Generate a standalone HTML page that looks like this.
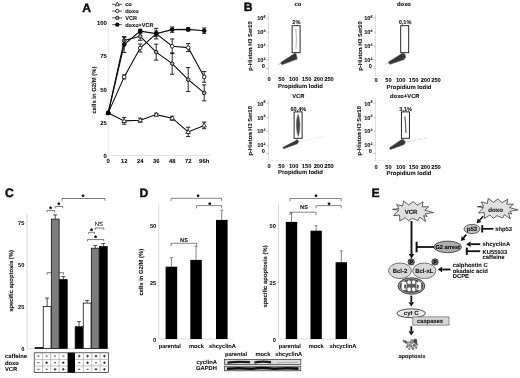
<!DOCTYPE html>
<html><head><meta charset="utf-8"><title>figure</title>
<style>
html,body{margin:0;padding:0;background:#fff;}
body{width:520px;height:378px;overflow:hidden;}
svg{display:block;font-family:"Liberation Sans",sans-serif;}
text{stroke:#111;stroke-width:0.08px;paint-order:stroke;text-rendering:geometricPrecision;}
</style></head><body>
<svg width="520" height="378" viewBox="0 0 520 378">
<defs><filter id="soft" x="0" y="0" width="100%" height="100%" filterUnits="userSpaceOnUse" color-interpolation-filters="sRGB"><feGaussianBlur stdDeviation="0.27"/></filter><filter id="b2" x="-20%" y="-20%" width="140%" height="140%"><feGaussianBlur stdDeviation="0.35"/></filter><filter id="b1" x="-5%" y="-50%" width="110%" height="200%"><feGaussianBlur stdDeviation="0.5"/></filter></defs>
<rect width="520" height="378" fill="#fff"/>
<g id="fig" filter="url(#soft)">
<text x="82.3" y="11.8" font-size="12.2" text-anchor="start" font-weight="bold" fill="#111" style="stroke-width:0.45px">A</text>
<line x1="108.2" y1="18" x2="108.2" y2="155.5" stroke="#e0e0e0" stroke-width="0.8"/>
<line x1="108.2" y1="155.5" x2="210" y2="155.5" stroke="#e0e0e0" stroke-width="0.8"/>
<text x="106.9" y="157.7" font-size="5.9" text-anchor="end" font-weight="bold" fill="#111">0</text>
<text x="106.9" y="124.89999999999999" font-size="5.9" text-anchor="end" font-weight="bold" fill="#111">25</text>
<text x="106.9" y="91.6" font-size="5.9" text-anchor="end" font-weight="bold" fill="#111">50</text>
<text x="106.9" y="58.3" font-size="5.9" text-anchor="end" font-weight="bold" fill="#111">75</text>
<text x="106.9" y="24.999999999999982" font-size="5.9" text-anchor="end" font-weight="bold" fill="#111">100</text>
<text x="108.2" y="163.4" font-size="5.9" text-anchor="middle" font-weight="bold" fill="#111">0</text>
<text x="124.2" y="163.4" font-size="5.9" text-anchor="middle" font-weight="bold" fill="#111">12</text>
<text x="140.2" y="163.4" font-size="5.9" text-anchor="middle" font-weight="bold" fill="#111">24</text>
<text x="156.2" y="163.4" font-size="5.9" text-anchor="middle" font-weight="bold" fill="#111">36</text>
<text x="172.2" y="163.4" font-size="5.9" text-anchor="middle" font-weight="bold" fill="#111">48</text>
<text x="188.2" y="163.4" font-size="5.9" text-anchor="middle" font-weight="bold" fill="#111">72</text>
<text x="204.2" y="163.4" font-size="5.9" text-anchor="middle" font-weight="bold" fill="#111">96h</text>
<polyline points="108.2,112.9 124.2,120.9 140.2,120.2 156.2,114.6 172.2,118.2 188.2,131.9 204.2,125.4" fill="none" stroke="#0a0a0a" stroke-width="1.1"/>
<line x1="124.2" y1="117.538" x2="124.2" y2="124.198" stroke="#111" stroke-width="0.9"/>
<line x1="122.0" y1="117.538" x2="126.4" y2="117.538" stroke="#111" stroke-width="0.9"/>
<line x1="122.0" y1="124.198" x2="126.4" y2="124.198" stroke="#111" stroke-width="0.9"/>
<line x1="140.2" y1="118.20400000000001" x2="140.2" y2="122.19999999999999" stroke="#111" stroke-width="0.9"/>
<line x1="138.0" y1="118.20400000000001" x2="142.39999999999998" y2="118.20400000000001" stroke="#111" stroke-width="0.9"/>
<line x1="138.0" y1="122.19999999999999" x2="142.39999999999998" y2="122.19999999999999" stroke="#111" stroke-width="0.9"/>
<line x1="156.2" y1="113.2756" x2="156.2" y2="115.9396" stroke="#111" stroke-width="0.9"/>
<line x1="154.0" y1="113.2756" x2="158.39999999999998" y2="113.2756" stroke="#111" stroke-width="0.9"/>
<line x1="154.0" y1="115.9396" x2="158.39999999999998" y2="115.9396" stroke="#111" stroke-width="0.9"/>
<line x1="172.2" y1="116.20599999999999" x2="172.2" y2="120.202" stroke="#111" stroke-width="0.9"/>
<line x1="170.0" y1="116.20599999999999" x2="174.39999999999998" y2="116.20599999999999" stroke="#111" stroke-width="0.9"/>
<line x1="170.0" y1="120.202" x2="174.39999999999998" y2="120.202" stroke="#111" stroke-width="0.9"/>
<line x1="188.2" y1="127.2616" x2="188.2" y2="136.5856" stroke="#111" stroke-width="0.9"/>
<line x1="186.0" y1="127.2616" x2="190.39999999999998" y2="127.2616" stroke="#111" stroke-width="0.9"/>
<line x1="186.0" y1="136.5856" x2="190.39999999999998" y2="136.5856" stroke="#111" stroke-width="0.9"/>
<line x1="204.2" y1="122.0668" x2="204.2" y2="128.7268" stroke="#111" stroke-width="0.9"/>
<line x1="202.0" y1="122.0668" x2="206.39999999999998" y2="122.0668" stroke="#111" stroke-width="0.9"/>
<line x1="202.0" y1="128.7268" x2="206.39999999999998" y2="128.7268" stroke="#111" stroke-width="0.9"/>
<path d="M106.0,114.5 L110.4,114.5 L108.2,110.5 Z" fill="#fff" stroke="#111" stroke-width="0.8"/>
<path d="M122.0,122.5 L126.4,122.5 L124.2,118.5 Z" fill="#fff" stroke="#111" stroke-width="0.8"/>
<path d="M138.0,121.8 L142.4,121.8 L140.2,117.8 Z" fill="#fff" stroke="#111" stroke-width="0.8"/>
<path d="M154.0,116.2 L158.4,116.2 L156.2,112.2 Z" fill="#fff" stroke="#111" stroke-width="0.8"/>
<path d="M170.0,119.8 L174.4,119.8 L172.2,115.8 Z" fill="#fff" stroke="#111" stroke-width="0.8"/>
<path d="M186.0,133.5 L190.4,133.5 L188.2,129.5 Z" fill="#fff" stroke="#111" stroke-width="0.8"/>
<path d="M202.0,127.0 L206.4,127.0 L204.2,123.0 Z" fill="#fff" stroke="#111" stroke-width="0.8"/>
<polyline points="108.2,112.9 124.2,76.9 140.2,48.0 156.2,33.6 172.2,46.3 188.2,47.6 204.2,76.9" fill="none" stroke="#0a0a0a" stroke-width="1.1"/>
<line x1="124.2" y1="74.914" x2="124.2" y2="78.91" stroke="#111" stroke-width="0.9"/>
<line x1="122.0" y1="74.914" x2="126.4" y2="74.914" stroke="#111" stroke-width="0.9"/>
<line x1="122.0" y1="78.91" x2="126.4" y2="78.91" stroke="#111" stroke-width="0.9"/>
<line x1="140.2" y1="44.01159999999999" x2="140.2" y2="52.00359999999999" stroke="#111" stroke-width="0.9"/>
<line x1="138.0" y1="44.01159999999999" x2="142.39999999999998" y2="44.01159999999999" stroke="#111" stroke-width="0.9"/>
<line x1="138.0" y1="52.00359999999999" x2="142.39999999999998" y2="52.00359999999999" stroke="#111" stroke-width="0.9"/>
<line x1="156.2" y1="28.293999999999997" x2="156.2" y2="38.94999999999999" stroke="#111" stroke-width="0.9"/>
<line x1="154.0" y1="28.293999999999997" x2="158.39999999999998" y2="28.293999999999997" stroke="#111" stroke-width="0.9"/>
<line x1="154.0" y1="38.94999999999999" x2="158.39999999999998" y2="38.94999999999999" stroke="#111" stroke-width="0.9"/>
<line x1="172.2" y1="38.94999999999999" x2="172.2" y2="53.60199999999999" stroke="#111" stroke-width="0.9"/>
<line x1="170.0" y1="38.94999999999999" x2="174.39999999999998" y2="38.94999999999999" stroke="#111" stroke-width="0.9"/>
<line x1="170.0" y1="53.60199999999999" x2="174.39999999999998" y2="53.60199999999999" stroke="#111" stroke-width="0.9"/>
<line x1="188.2" y1="43.611999999999995" x2="188.2" y2="51.604" stroke="#111" stroke-width="0.9"/>
<line x1="186.0" y1="43.611999999999995" x2="190.39999999999998" y2="43.611999999999995" stroke="#111" stroke-width="0.9"/>
<line x1="186.0" y1="51.604" x2="190.39999999999998" y2="51.604" stroke="#111" stroke-width="0.9"/>
<line x1="204.2" y1="71.58399999999999" x2="204.2" y2="82.24" stroke="#111" stroke-width="0.9"/>
<line x1="202.0" y1="71.58399999999999" x2="206.39999999999998" y2="71.58399999999999" stroke="#111" stroke-width="0.9"/>
<line x1="202.0" y1="82.24" x2="206.39999999999998" y2="82.24" stroke="#111" stroke-width="0.9"/>
<circle cx="108.2" cy="112.9" r="1.8" fill="#fff" stroke="#111" stroke-width="0.9"/>
<circle cx="124.2" cy="76.9" r="1.8" fill="#fff" stroke="#111" stroke-width="0.9"/>
<circle cx="140.2" cy="48.0" r="1.8" fill="#fff" stroke="#111" stroke-width="0.9"/>
<circle cx="156.2" cy="33.6" r="1.8" fill="#fff" stroke="#111" stroke-width="0.9"/>
<circle cx="172.2" cy="46.3" r="1.8" fill="#fff" stroke="#111" stroke-width="0.9"/>
<circle cx="188.2" cy="47.6" r="1.8" fill="#fff" stroke="#111" stroke-width="0.9"/>
<circle cx="204.2" cy="76.9" r="1.8" fill="#fff" stroke="#111" stroke-width="0.9"/>
<polyline points="108.2,112.9 124.2,40.5 140.2,36.3 156.2,52.1 172.2,63.6 188.2,79.6 204.2,92.9" fill="none" stroke="#0a0a0a" stroke-width="1.1"/>
<line x1="124.2" y1="37.2184" x2="124.2" y2="43.8784" stroke="#111" stroke-width="0.9"/>
<line x1="122.0" y1="37.2184" x2="126.4" y2="37.2184" stroke="#111" stroke-width="0.9"/>
<line x1="122.0" y1="43.8784" x2="126.4" y2="43.8784" stroke="#111" stroke-width="0.9"/>
<line x1="140.2" y1="32.28999999999999" x2="140.2" y2="40.282" stroke="#111" stroke-width="0.9"/>
<line x1="138.0" y1="32.28999999999999" x2="142.39999999999998" y2="32.28999999999999" stroke="#111" stroke-width="0.9"/>
<line x1="138.0" y1="40.282" x2="142.39999999999998" y2="40.282" stroke="#111" stroke-width="0.9"/>
<line x1="156.2" y1="44.144800000000004" x2="156.2" y2="60.1288" stroke="#111" stroke-width="0.9"/>
<line x1="154.0" y1="44.144800000000004" x2="158.39999999999998" y2="44.144800000000004" stroke="#111" stroke-width="0.9"/>
<line x1="154.0" y1="60.1288" x2="158.39999999999998" y2="60.1288" stroke="#111" stroke-width="0.9"/>
<line x1="172.2" y1="52.93599999999999" x2="172.2" y2="74.24799999999999" stroke="#111" stroke-width="0.9"/>
<line x1="170.0" y1="52.93599999999999" x2="174.39999999999998" y2="52.93599999999999" stroke="#111" stroke-width="0.9"/>
<line x1="170.0" y1="74.24799999999999" x2="174.39999999999998" y2="74.24799999999999" stroke="#111" stroke-width="0.9"/>
<line x1="188.2" y1="67.588" x2="188.2" y2="91.564" stroke="#111" stroke-width="0.9"/>
<line x1="186.0" y1="67.588" x2="190.39999999999998" y2="67.588" stroke="#111" stroke-width="0.9"/>
<line x1="186.0" y1="91.564" x2="190.39999999999998" y2="91.564" stroke="#111" stroke-width="0.9"/>
<line x1="204.2" y1="84.904" x2="204.2" y2="100.888" stroke="#111" stroke-width="0.9"/>
<line x1="202.0" y1="84.904" x2="206.39999999999998" y2="84.904" stroke="#111" stroke-width="0.9"/>
<line x1="202.0" y1="100.888" x2="206.39999999999998" y2="100.888" stroke="#111" stroke-width="0.9"/>
<circle cx="108.2" cy="112.9" r="1.8" fill="#aaa" stroke="#111" stroke-width="0.9"/>
<circle cx="124.2" cy="40.5" r="1.8" fill="#aaa" stroke="#111" stroke-width="0.9"/>
<circle cx="140.2" cy="36.3" r="1.8" fill="#aaa" stroke="#111" stroke-width="0.9"/>
<circle cx="156.2" cy="52.1" r="1.8" fill="#aaa" stroke="#111" stroke-width="0.9"/>
<circle cx="172.2" cy="63.6" r="1.8" fill="#aaa" stroke="#111" stroke-width="0.9"/>
<circle cx="188.2" cy="79.6" r="1.8" fill="#aaa" stroke="#111" stroke-width="0.9"/>
<circle cx="204.2" cy="92.9" r="1.8" fill="#aaa" stroke="#111" stroke-width="0.9"/>
<polyline points="108.2,112.9 124.2,44.5 140.2,31.2 156.2,33.6 172.2,29.6 188.2,29.4 204.2,30.7" fill="none" stroke="#0a0a0a" stroke-width="1.1"/>
<line x1="124.2" y1="36.55239999999999" x2="124.2" y2="52.5364" stroke="#111" stroke-width="0.9"/>
<line x1="122.0" y1="36.55239999999999" x2="126.4" y2="36.55239999999999" stroke="#111" stroke-width="0.9"/>
<line x1="122.0" y1="52.5364" x2="126.4" y2="52.5364" stroke="#111" stroke-width="0.9"/>
<line x1="140.2" y1="29.226399999999998" x2="140.2" y2="33.22239999999999" stroke="#111" stroke-width="0.9"/>
<line x1="138.0" y1="29.226399999999998" x2="142.39999999999998" y2="29.226399999999998" stroke="#111" stroke-width="0.9"/>
<line x1="138.0" y1="33.22239999999999" x2="142.39999999999998" y2="33.22239999999999" stroke="#111" stroke-width="0.9"/>
<line x1="156.2" y1="30.958" x2="156.2" y2="36.28599999999999" stroke="#111" stroke-width="0.9"/>
<line x1="154.0" y1="30.958" x2="158.39999999999998" y2="30.958" stroke="#111" stroke-width="0.9"/>
<line x1="154.0" y1="36.28599999999999" x2="158.39999999999998" y2="36.28599999999999" stroke="#111" stroke-width="0.9"/>
<line x1="172.2" y1="26.96199999999999" x2="172.2" y2="32.28999999999999" stroke="#111" stroke-width="0.9"/>
<line x1="170.0" y1="26.96199999999999" x2="174.39999999999998" y2="26.96199999999999" stroke="#111" stroke-width="0.9"/>
<line x1="170.0" y1="32.28999999999999" x2="174.39999999999998" y2="32.28999999999999" stroke="#111" stroke-width="0.9"/>
<line x1="188.2" y1="27.761199999999988" x2="188.2" y2="30.958" stroke="#111" stroke-width="0.9"/>
<line x1="186.0" y1="27.761199999999988" x2="190.39999999999998" y2="27.761199999999988" stroke="#111" stroke-width="0.9"/>
<line x1="186.0" y1="30.958" x2="190.39999999999998" y2="30.958" stroke="#111" stroke-width="0.9"/>
<line x1="204.2" y1="28.027599999999993" x2="204.2" y2="33.355599999999995" stroke="#111" stroke-width="0.9"/>
<line x1="202.0" y1="28.027599999999993" x2="206.39999999999998" y2="28.027599999999993" stroke="#111" stroke-width="0.9"/>
<line x1="202.0" y1="33.355599999999995" x2="206.39999999999998" y2="33.355599999999995" stroke="#111" stroke-width="0.9"/>
<circle cx="108.2" cy="112.9" r="2.0" fill="#000" stroke="#000" stroke-width="0.5"/>
<circle cx="124.2" cy="44.5" r="2.0" fill="#000" stroke="#000" stroke-width="0.5"/>
<circle cx="140.2" cy="31.2" r="2.0" fill="#000" stroke="#000" stroke-width="0.5"/>
<circle cx="156.2" cy="33.6" r="2.0" fill="#000" stroke="#000" stroke-width="0.5"/>
<circle cx="172.2" cy="29.6" r="2.0" fill="#000" stroke="#000" stroke-width="0.5"/>
<circle cx="188.2" cy="29.4" r="2.0" fill="#000" stroke="#000" stroke-width="0.5"/>
<circle cx="204.2" cy="30.7" r="2.0" fill="#000" stroke="#000" stroke-width="0.5"/>
<rect x="106.7" y="111.4" width="3.4" height="3.4" fill="#000" stroke="none" stroke-width="1"/>
<line x1="112" y1="4.3" x2="122" y2="4.3" stroke="#333" stroke-width="0.8"/>
<path d="M115.3,5.8 L119.3,5.8 L117.3,2.0999999999999996 Z" fill="#fff" stroke="#111" stroke-width="0.75"/>
<text x="125.2" y="6.3" font-size="5.6" text-anchor="start" font-weight="bold" fill="#111">co</text>
<line x1="112" y1="11.1" x2="122" y2="11.1" stroke="#333" stroke-width="0.8"/>
<circle cx="117.3" cy="11.1" r="1.7" fill="#fff" stroke="#111" stroke-width="0.85"/>
<text x="125.2" y="13.1" font-size="5.6" text-anchor="start" font-weight="bold" fill="#111">doxo</text>
<line x1="112" y1="17.9" x2="122" y2="17.9" stroke="#333" stroke-width="0.8"/>
<circle cx="117.3" cy="17.9" r="1.7" fill="#aaa" stroke="#111" stroke-width="0.85"/>
<text x="125.2" y="19.9" font-size="5.6" text-anchor="start" font-weight="bold" fill="#111">VCR</text>
<line x1="112" y1="24.7" x2="122" y2="24.7" stroke="#333" stroke-width="0.8"/>
<circle cx="117.3" cy="24.7" r="1.9" fill="#000" stroke="#000" stroke-width="0.5"/>
<text x="125.2" y="26.7" font-size="5.6" text-anchor="start" font-weight="bold" fill="#111">doxo+VCR</text>
<text x="96.2" y="90" font-size="5.9" text-anchor="middle" font-weight="bold" fill="#111" transform="rotate(-90 96.2 90)">cells in G2/M (%)</text>
<text x="243.8" y="11.3" font-size="12.2" text-anchor="start" font-weight="bold" fill="#111" style="stroke-width:0.45px">B</text>
<text x="297.8" y="5.9" font-size="5.8" text-anchor="middle" font-weight="bold" fill="#111">co</text>
<line x1="268.4" y1="13.5" x2="268.4" y2="75.8" stroke="#d2d2d2" stroke-width="0.8"/>
<line x1="268.4" y1="75.8" x2="333" y2="75.8" stroke="#d4d4d4" stroke-width="0.7" stroke-dasharray="1 0.8"/>
<text x="257.2" y="20.299999999999997" font-size="5.6" font-weight="bold" fill="#111">10<tspan dy="-2.3" font-size="3.6">5</tspan></text>
<line x1="266.6" y1="18.299999999999997" x2="268.4" y2="18.299999999999997" stroke="#999" stroke-width="0.6"/>
<text x="257.2" y="34.199999999999996" font-size="5.6" font-weight="bold" fill="#111">10<tspan dy="-2.3" font-size="3.6">4</tspan></text>
<line x1="266.6" y1="32.199999999999996" x2="268.4" y2="32.199999999999996" stroke="#999" stroke-width="0.6"/>
<text x="257.2" y="48.099999999999994" font-size="5.6" font-weight="bold" fill="#111">10<tspan dy="-2.3" font-size="3.6">3</tspan></text>
<line x1="266.6" y1="46.099999999999994" x2="268.4" y2="46.099999999999994" stroke="#999" stroke-width="0.6"/>
<text x="257.2" y="62.0" font-size="5.6" font-weight="bold" fill="#111">10<tspan dy="-2.3" font-size="3.6">2</tspan></text>
<line x1="266.6" y1="60.0" x2="268.4" y2="60.0" stroke="#999" stroke-width="0.6"/>
<text x="263.4" y="68.1" font-size="5.6" text-anchor="middle" font-weight="bold" fill="#111">0</text>
<line x1="266.4" y1="68.7" x2="268.4" y2="68.7" stroke="#888" stroke-width="0.6"/>
<text x="269" y="81.2" font-size="5.7" text-anchor="middle" font-weight="bold" fill="#111">0</text>
<text x="281.5" y="81.2" font-size="5.7" text-anchor="middle" font-weight="bold" fill="#111">50</text>
<text x="293.7" y="81.2" font-size="5.7" text-anchor="middle" font-weight="bold" fill="#111">100</text>
<text x="306.6" y="81.2" font-size="5.7" text-anchor="middle" font-weight="bold" fill="#111">150</text>
<text x="318.4" y="81.2" font-size="5.7" text-anchor="middle" font-weight="bold" fill="#111">200</text>
<text x="329.0" y="81.2" font-size="5.7" text-anchor="middle" font-weight="bold" fill="#111">250</text>
<text x="300.5" y="88.3" font-size="5.9" text-anchor="middle" font-weight="bold" fill="#111">Propidium Iodid</text>
<text x="252.4" y="46.0" font-size="5.75" text-anchor="middle" font-weight="bold" fill="#111" transform="rotate(-90 252.4 46.0)">p-Histon H3 Ser10</text>
<g transform="translate(269 67.5)" filter="url(#b2)">
<path d="M11.7,-3.85 L12.1,-5.2 L26,-14.3 L27,-14 L28.2,-8.4 L13.3,-2.9 Z" fill="#363636" stroke="#555" stroke-width="0.6"/>
<path d="M8.9,-3.0 L12,-4.1" fill="none" stroke="#aaa" stroke-width="0.7"/>
</g>
<path d="M295.79999999999995,28.700000000000003 L296.49999999999994,37.7 L295.9,48.7" fill="none" stroke="#bbb" stroke-width="1.1" filter="url(#b2)"/>
<rect x="292.09999999999997" y="25.700000000000003" width="8.0" height="27.0" fill="none" stroke="#111" stroke-width="0.9"/>
<text x="296.4" y="24.300000000000004" font-size="5.6" text-anchor="middle" font-weight="bold" fill="#111">2%</text>
<text x="404" y="5.9" font-size="5.8" text-anchor="middle" font-weight="bold" fill="#111">doxo</text>
<line x1="375.4" y1="13.5" x2="375.4" y2="75.8" stroke="#d2d2d2" stroke-width="0.8"/>
<line x1="375.4" y1="75.8" x2="440" y2="75.8" stroke="#d4d4d4" stroke-width="0.7" stroke-dasharray="1 0.8"/>
<text x="364.2" y="20.299999999999997" font-size="5.6" font-weight="bold" fill="#111">10<tspan dy="-2.3" font-size="3.6">5</tspan></text>
<line x1="373.6" y1="18.299999999999997" x2="375.4" y2="18.299999999999997" stroke="#999" stroke-width="0.6"/>
<text x="364.2" y="34.199999999999996" font-size="5.6" font-weight="bold" fill="#111">10<tspan dy="-2.3" font-size="3.6">4</tspan></text>
<line x1="373.6" y1="32.199999999999996" x2="375.4" y2="32.199999999999996" stroke="#999" stroke-width="0.6"/>
<text x="364.2" y="48.099999999999994" font-size="5.6" font-weight="bold" fill="#111">10<tspan dy="-2.3" font-size="3.6">3</tspan></text>
<line x1="373.6" y1="46.099999999999994" x2="375.4" y2="46.099999999999994" stroke="#999" stroke-width="0.6"/>
<text x="364.2" y="62.0" font-size="5.6" font-weight="bold" fill="#111">10<tspan dy="-2.3" font-size="3.6">2</tspan></text>
<line x1="373.6" y1="60.0" x2="375.4" y2="60.0" stroke="#999" stroke-width="0.6"/>
<text x="370.4" y="68.1" font-size="5.6" text-anchor="middle" font-weight="bold" fill="#111">0</text>
<line x1="373.4" y1="68.7" x2="375.4" y2="68.7" stroke="#888" stroke-width="0.6"/>
<text x="376" y="81.6" font-size="5.7" text-anchor="middle" font-weight="bold" fill="#111">0</text>
<text x="388.5" y="81.6" font-size="5.7" text-anchor="middle" font-weight="bold" fill="#111">50</text>
<text x="400.7" y="81.6" font-size="5.7" text-anchor="middle" font-weight="bold" fill="#111">100</text>
<text x="413.6" y="81.6" font-size="5.7" text-anchor="middle" font-weight="bold" fill="#111">150</text>
<text x="425.4" y="81.6" font-size="5.7" text-anchor="middle" font-weight="bold" fill="#111">200</text>
<text x="436.0" y="81.6" font-size="5.7" text-anchor="middle" font-weight="bold" fill="#111">250</text>
<text x="409" y="88.5" font-size="5.9" text-anchor="middle" font-weight="bold" fill="#111">Propidium Iodid</text>
<text x="361.5" y="46.0" font-size="5.75" text-anchor="middle" font-weight="bold" fill="#111" transform="rotate(-90 361.5 46.0)">p-Histon H3 Ser10</text>
<g transform="translate(376 67.5)" filter="url(#b2)">
<path d="M12.5,-4.4 L12.9,-5.8 L26.4,-14.3 L28.8,-13.5 L29.8,-10.6 L28,-8.0 L14.1,-3.3 Z" fill="#363636" stroke="#555" stroke-width="0.6"/>
<path d="M8.5,-3.2 L12.6,-4.6" fill="none" stroke="#ccc" stroke-width="0.7"/>
</g>
<rect x="400.7" y="25.700000000000003" width="8.0" height="27.0" fill="none" stroke="#111" stroke-width="0.9"/>
<text x="405.0" y="24.300000000000004" font-size="5.6" text-anchor="middle" font-weight="bold" fill="#111">0,1%</text>
<text x="298.3" y="97.8" font-size="5.8" text-anchor="middle" font-weight="bold" fill="#111">VCR</text>
<line x1="268.4" y1="98.30000000000001" x2="268.4" y2="160.60000000000002" stroke="#d2d2d2" stroke-width="0.8"/>
<line x1="268.4" y1="160.60000000000002" x2="333" y2="160.60000000000002" stroke="#d4d4d4" stroke-width="0.7" stroke-dasharray="1 0.8"/>
<text x="257.2" y="105.60000000000001" font-size="5.6" font-weight="bold" fill="#111">10<tspan dy="-2.3" font-size="3.6">5</tspan></text>
<line x1="266.6" y1="103.60000000000001" x2="268.4" y2="103.60000000000001" stroke="#999" stroke-width="0.6"/>
<text x="257.2" y="119.50000000000001" font-size="5.6" font-weight="bold" fill="#111">10<tspan dy="-2.3" font-size="3.6">4</tspan></text>
<line x1="266.6" y1="117.50000000000001" x2="268.4" y2="117.50000000000001" stroke="#999" stroke-width="0.6"/>
<text x="257.2" y="133.4" font-size="5.6" font-weight="bold" fill="#111">10<tspan dy="-2.3" font-size="3.6">3</tspan></text>
<line x1="266.6" y1="131.4" x2="268.4" y2="131.4" stroke="#999" stroke-width="0.6"/>
<text x="257.2" y="147.3" font-size="5.6" font-weight="bold" fill="#111">10<tspan dy="-2.3" font-size="3.6">2</tspan></text>
<line x1="266.6" y1="145.3" x2="268.4" y2="145.3" stroke="#999" stroke-width="0.6"/>
<text x="263.4" y="152.9" font-size="5.6" text-anchor="middle" font-weight="bold" fill="#111">0</text>
<line x1="266.4" y1="153.5" x2="268.4" y2="153.5" stroke="#888" stroke-width="0.6"/>
<text x="269" y="168.4" font-size="5.7" text-anchor="middle" font-weight="bold" fill="#111">0</text>
<text x="281.5" y="168.4" font-size="5.7" text-anchor="middle" font-weight="bold" fill="#111">50</text>
<text x="293.7" y="168.4" font-size="5.7" text-anchor="middle" font-weight="bold" fill="#111">100</text>
<text x="306.6" y="168.4" font-size="5.7" text-anchor="middle" font-weight="bold" fill="#111">150</text>
<text x="318.4" y="168.4" font-size="5.7" text-anchor="middle" font-weight="bold" fill="#111">200</text>
<text x="329.0" y="168.4" font-size="5.7" text-anchor="middle" font-weight="bold" fill="#111">250</text>
<text x="300.5" y="174.2" font-size="5.9" text-anchor="middle" font-weight="bold" fill="#111">Propidium Iodid</text>
<text x="252.4" y="130.8" font-size="5.75" text-anchor="middle" font-weight="bold" fill="#111" transform="rotate(-90 252.4 130.8)">p-Histon H3 Ser10</text>
<g transform="translate(269 152.3)" filter="url(#b2)">
<path d="M13.8,-4.2 L14.2,-5.1 L26.5,-11.5 L28.2,-12.9 L29.7,-10.7 L28.4,-8.5 L14.6,-3.5 Z" fill="#363636" stroke="#555" stroke-width="0.6"/>
<path d="M31,-11 L40,-13 L50,-15 L57,-16.2" fill="none" stroke="#f3f3f3" stroke-width="1.2"/>
</g>
<g filter="url(#b2)"><ellipse cx="298.09999999999997" cy="125.4" rx="2.3" ry="11.8" fill="#c4c4c4"/><path d="M298.09999999999997,114.10000000000001 C300.7,121.9 300.29999999999995,128.9 298.4,136.70000000000002 C295.9,128.9 295.49999999999994,121.9 298.09999999999997,114.10000000000001 Z" fill="#4a4a4a"/></g>
<rect x="294.09999999999997" y="111.9" width="8.0" height="26.4" fill="none" stroke="#111" stroke-width="0.9"/>
<text x="298.4" y="110.5" font-size="5.6" text-anchor="middle" font-weight="bold" fill="#111">60,4%</text>
<text x="404.8" y="97.8" font-size="5.8" text-anchor="middle" font-weight="bold" fill="#111">doxo+VCR</text>
<line x1="375.4" y1="98.30000000000001" x2="375.4" y2="160.60000000000002" stroke="#d2d2d2" stroke-width="0.8"/>
<line x1="375.4" y1="160.60000000000002" x2="440" y2="160.60000000000002" stroke="#d4d4d4" stroke-width="0.7" stroke-dasharray="1 0.8"/>
<text x="364.2" y="105.60000000000001" font-size="5.6" font-weight="bold" fill="#111">10<tspan dy="-2.3" font-size="3.6">5</tspan></text>
<line x1="373.6" y1="103.60000000000001" x2="375.4" y2="103.60000000000001" stroke="#999" stroke-width="0.6"/>
<text x="364.2" y="119.50000000000001" font-size="5.6" font-weight="bold" fill="#111">10<tspan dy="-2.3" font-size="3.6">4</tspan></text>
<line x1="373.6" y1="117.50000000000001" x2="375.4" y2="117.50000000000001" stroke="#999" stroke-width="0.6"/>
<text x="364.2" y="133.4" font-size="5.6" font-weight="bold" fill="#111">10<tspan dy="-2.3" font-size="3.6">3</tspan></text>
<line x1="373.6" y1="131.4" x2="375.4" y2="131.4" stroke="#999" stroke-width="0.6"/>
<text x="364.2" y="147.3" font-size="5.6" font-weight="bold" fill="#111">10<tspan dy="-2.3" font-size="3.6">2</tspan></text>
<line x1="373.6" y1="145.3" x2="375.4" y2="145.3" stroke="#999" stroke-width="0.6"/>
<text x="370.4" y="152.9" font-size="5.6" text-anchor="middle" font-weight="bold" fill="#111">0</text>
<line x1="373.4" y1="153.5" x2="375.4" y2="153.5" stroke="#888" stroke-width="0.6"/>
<text x="376" y="168.8" font-size="5.7" text-anchor="middle" font-weight="bold" fill="#111">0</text>
<text x="388.5" y="168.8" font-size="5.7" text-anchor="middle" font-weight="bold" fill="#111">50</text>
<text x="400.7" y="168.8" font-size="5.7" text-anchor="middle" font-weight="bold" fill="#111">100</text>
<text x="413.6" y="168.8" font-size="5.7" text-anchor="middle" font-weight="bold" fill="#111">150</text>
<text x="425.4" y="168.8" font-size="5.7" text-anchor="middle" font-weight="bold" fill="#111">200</text>
<text x="436.0" y="168.8" font-size="5.7" text-anchor="middle" font-weight="bold" fill="#111">250</text>
<text x="409" y="174.6" font-size="5.9" text-anchor="middle" font-weight="bold" fill="#111">Propidium Iodid</text>
<text x="361.5" y="130.8" font-size="5.75" text-anchor="middle" font-weight="bold" fill="#111" transform="rotate(-90 361.5 130.8)">p-Histon H3 Ser10</text>
<g transform="translate(376 152.3)" filter="url(#b2)">
<path d="M13.6,-3.6 L13.9,-4.7 L25,-12.4 L27.2,-13 L29.5,-10.3 L28,-7.7 L14.6,-2.9 Z" fill="#363636" stroke="#555" stroke-width="0.6"/>
<path d="M31,-10.3 L38,-11.6 L45,-13.4 L52,-14.9" fill="none" stroke="#e6e6e6" stroke-width="1.5" stroke-dasharray="4 1.5"/>
</g>
<path d="M404.79999999999995,116.4 L405.59999999999997,123.9 L405.9,132.9" fill="none" stroke="#666" stroke-width="1.2" filter="url(#b2)"/>
<rect x="401.4" y="111.9" width="8.0" height="26.4" fill="none" stroke="#111" stroke-width="0.9"/>
<text x="405.7" y="110.5" font-size="5.6" text-anchor="middle" font-weight="bold" fill="#111">3,1%</text>
<text x="4.9" y="197.1" font-size="12.2" text-anchor="start" font-weight="bold" fill="#111" style="stroke-width:0.45px">C</text>
<line x1="27.0" y1="214" x2="27.0" y2="348.5" stroke="#d2d2d2" stroke-width="0.9"/>
<line x1="27.0" y1="348.5" x2="110" y2="348.5" stroke="#d2d2d2" stroke-width="0.8"/>
<text x="24.3" y="350.7" font-size="5.6" text-anchor="end" font-weight="bold" fill="#111">0</text>
<text x="24.3" y="308.7" font-size="5.6" text-anchor="end" font-weight="bold" fill="#111">25</text>
<text x="24.3" y="266.7" font-size="5.6" text-anchor="end" font-weight="bold" fill="#111">50</text>
<text x="24.3" y="224.7" font-size="5.6" text-anchor="end" font-weight="bold" fill="#111">75</text>
<text x="13.2" y="281" font-size="5.85" text-anchor="middle" font-weight="bold" fill="#111" transform="rotate(-90 13.2 281)">specific apoptosis (%)</text>
<path d="M47,274.7 L47,272.7 L63.5,272.7 L63.5,274.7" fill="none" stroke="#444" stroke-width="0.7"/>
<rect x="35.15" y="347.5" width="7.8" height="1.0" fill="#000" stroke="#111" stroke-width="0.8"/>
<line x1="47.15" y1="298.1" x2="47.15" y2="306.5" stroke="#222" stroke-width="0.8"/>
<line x1="45.15" y1="298.1" x2="49.15" y2="298.1" stroke="#222" stroke-width="0.8"/>
<rect x="43.25" y="306.5" width="7.8" height="42.0" fill="#fff" stroke="#111" stroke-width="0.8"/>
<line x1="55.25" y1="214.94000000000003" x2="55.25" y2="219.14000000000001" stroke="#222" stroke-width="0.8"/>
<line x1="53.25" y1="214.94000000000003" x2="57.25" y2="214.94000000000003" stroke="#222" stroke-width="0.8"/>
<rect x="51.35" y="219.1" width="7.8" height="129.4" fill="#7d7d7d" stroke="#111" stroke-width="0.8"/>
<line x1="63.349999999999994" y1="276.596" x2="63.349999999999994" y2="279.62" stroke="#222" stroke-width="0.8"/>
<line x1="61.349999999999994" y1="276.596" x2="65.35" y2="276.596" stroke="#222" stroke-width="0.8"/>
<rect x="59.449999999999996" y="279.6" width="7.8" height="68.9" fill="#000" stroke="#111" stroke-width="0.8"/>
<line x1="79.05" y1="321.62" x2="79.05" y2="326.66" stroke="#222" stroke-width="0.8"/>
<line x1="77.05" y1="321.62" x2="81.05" y2="321.62" stroke="#222" stroke-width="0.8"/>
<rect x="75.15" y="326.7" width="7.8" height="21.8" fill="#000" stroke="#111" stroke-width="0.8"/>
<line x1="87.14999999999999" y1="300.452" x2="87.14999999999999" y2="303.14" stroke="#222" stroke-width="0.8"/>
<line x1="85.14999999999999" y1="300.452" x2="89.14999999999999" y2="300.452" stroke="#222" stroke-width="0.8"/>
<rect x="83.25" y="303.1" width="7.8" height="45.4" fill="#fff" stroke="#111" stroke-width="0.8"/>
<line x1="95.25" y1="245.51600000000002" x2="95.25" y2="248.204" stroke="#222" stroke-width="0.8"/>
<line x1="93.25" y1="245.51600000000002" x2="97.25" y2="245.51600000000002" stroke="#222" stroke-width="0.8"/>
<rect x="91.35000000000001" y="248.2" width="7.8" height="100.3" fill="#7d7d7d" stroke="#111" stroke-width="0.8"/>
<line x1="103.35" y1="243.5" x2="103.35" y2="246.524" stroke="#222" stroke-width="0.8"/>
<line x1="101.35" y1="243.5" x2="105.35" y2="243.5" stroke="#222" stroke-width="0.8"/>
<rect x="99.45" y="246.5" width="7.8" height="102.0" fill="#000" stroke="#111" stroke-width="0.8"/>
<path d="M62,200.8 L62,198.5 L105,198.5 L105,200.8" fill="none" stroke="#444" stroke-width="0.7"/>
<text x="83" y="199.49" font-size="6.6" text-anchor="middle" font-weight="bold" fill="#000" style="stroke:#000;stroke-width:0.3px">*</text>
<path d="M47,212.3 L47,210.5 L54.6,210.5 L54.6,212.3" fill="none" stroke="#444" stroke-width="0.7"/>
<text x="50.5" y="211.49" font-size="6.6" text-anchor="middle" font-weight="bold" fill="#000" style="stroke:#000;stroke-width:0.3px">*</text>
<path d="M55.2,208.3 L55.2,206.5 L62.7,206.5 L62.7,208.3" fill="none" stroke="#444" stroke-width="0.7"/>
<text x="58.8" y="207.49" font-size="6.6" text-anchor="middle" font-weight="bold" fill="#000" style="stroke:#000;stroke-width:0.3px">*</text>
<text x="98.8" y="226.2" font-size="6.0" text-anchor="middle" font-weight="normal" fill="#111">NS</text>
<path d="M95,229.8 L95,228 L103.8,228 L103.8,229.8" fill="none" stroke="#444" stroke-width="0.7"/>
<path d="M88.7,234.10000000000002 L88.7,232.3 L94.6,232.3 L94.6,234.10000000000002" fill="none" stroke="#444" stroke-width="0.7"/>
<text x="91.5" y="232.99" font-size="6.6" text-anchor="middle" font-weight="bold" fill="#000" style="stroke:#000;stroke-width:0.3px">*</text>
<path d="M87.4,241.4 L87.4,239.6 L103.8,239.6 L103.8,241.4" fill="none" stroke="#444" stroke-width="0.7"/>
<text x="95.5" y="240.49" font-size="6.6" text-anchor="middle" font-weight="bold" fill="#000" style="stroke:#000;stroke-width:0.3px">*</text>
<rect x="34.2" y="352.8" width="74.39999999999999" height="19.80000000000001" fill="#fff" stroke="#222" stroke-width="0.7"/>
<line x1="34.2" y1="359.40000000000003" x2="108.6" y2="359.40000000000003" stroke="#888" stroke-width="0.5"/>
<line x1="34.2" y1="366.0" x2="108.6" y2="366.0" stroke="#888" stroke-width="0.5"/>
<line x1="42.5" y1="352.8" x2="42.5" y2="372.6" stroke="#888" stroke-width="0.5"/>
<line x1="83.4" y1="352.8" x2="83.4" y2="372.6" stroke="#888" stroke-width="0.5"/>
<line x1="50.800000000000004" y1="352.8" x2="50.800000000000004" y2="372.6" stroke="#888" stroke-width="0.5"/>
<line x1="91.8" y1="352.8" x2="91.8" y2="372.6" stroke="#888" stroke-width="0.5"/>
<line x1="59.10000000000001" y1="352.8" x2="59.10000000000001" y2="372.6" stroke="#888" stroke-width="0.5"/>
<line x1="100.2" y1="352.8" x2="100.2" y2="372.6" stroke="#888" stroke-width="0.5"/>
<rect x="67.6" y="352.8" width="7.4" height="19.80000000000001" fill="#000" stroke="none" stroke-width="1"/>
<text x="5" y="358.1" font-size="5.8" text-anchor="start" font-weight="bold" fill="#111">caffeine</text>
<line x1="37.4" y1="356.1" x2="39.4" y2="356.1" stroke="#111" stroke-width="0.8"/>
<line x1="45.7" y1="356.1" x2="47.7" y2="356.1" stroke="#111" stroke-width="0.8"/>
<line x1="54.0" y1="356.1" x2="56.0" y2="356.1" stroke="#111" stroke-width="0.8"/>
<line x1="62.3" y1="356.1" x2="64.3" y2="356.1" stroke="#111" stroke-width="0.8"/>
<line x1="77.9" y1="356.1" x2="80.5" y2="356.1" stroke="#111" stroke-width="0.8"/>
<line x1="79.2" y1="354.8" x2="79.2" y2="357.40000000000003" stroke="#111" stroke-width="0.8"/>
<line x1="86.3" y1="356.1" x2="88.89999999999999" y2="356.1" stroke="#111" stroke-width="0.8"/>
<line x1="87.6" y1="354.8" x2="87.6" y2="357.40000000000003" stroke="#111" stroke-width="0.8"/>
<line x1="94.7" y1="356.1" x2="97.3" y2="356.1" stroke="#111" stroke-width="0.8"/>
<line x1="96" y1="354.8" x2="96" y2="357.40000000000003" stroke="#111" stroke-width="0.8"/>
<line x1="103.10000000000001" y1="356.1" x2="105.7" y2="356.1" stroke="#111" stroke-width="0.8"/>
<line x1="104.4" y1="354.8" x2="104.4" y2="357.40000000000003" stroke="#111" stroke-width="0.8"/>
<text x="5" y="364.70000000000005" font-size="5.8" text-anchor="start" font-weight="bold" fill="#111">doxo</text>
<line x1="37.4" y1="362.70000000000005" x2="39.4" y2="362.70000000000005" stroke="#111" stroke-width="0.8"/>
<line x1="45.400000000000006" y1="362.70000000000005" x2="48.0" y2="362.70000000000005" stroke="#111" stroke-width="0.8"/>
<line x1="46.7" y1="361.40000000000003" x2="46.7" y2="364.00000000000006" stroke="#111" stroke-width="0.8"/>
<line x1="54.0" y1="362.70000000000005" x2="56.0" y2="362.70000000000005" stroke="#111" stroke-width="0.8"/>
<line x1="62.0" y1="362.70000000000005" x2="64.6" y2="362.70000000000005" stroke="#111" stroke-width="0.8"/>
<line x1="63.3" y1="361.40000000000003" x2="63.3" y2="364.00000000000006" stroke="#111" stroke-width="0.8"/>
<line x1="78.2" y1="362.70000000000005" x2="80.2" y2="362.70000000000005" stroke="#111" stroke-width="0.8"/>
<line x1="86.3" y1="362.70000000000005" x2="88.89999999999999" y2="362.70000000000005" stroke="#111" stroke-width="0.8"/>
<line x1="87.6" y1="361.40000000000003" x2="87.6" y2="364.00000000000006" stroke="#111" stroke-width="0.8"/>
<line x1="95.0" y1="362.70000000000005" x2="97.0" y2="362.70000000000005" stroke="#111" stroke-width="0.8"/>
<line x1="103.10000000000001" y1="362.70000000000005" x2="105.7" y2="362.70000000000005" stroke="#111" stroke-width="0.8"/>
<line x1="104.4" y1="361.40000000000003" x2="104.4" y2="364.00000000000006" stroke="#111" stroke-width="0.8"/>
<text x="5" y="371.3" font-size="5.8" text-anchor="start" font-weight="bold" fill="#111">VCR</text>
<line x1="37.4" y1="369.3" x2="39.4" y2="369.3" stroke="#111" stroke-width="0.8"/>
<line x1="45.7" y1="369.3" x2="47.7" y2="369.3" stroke="#111" stroke-width="0.8"/>
<line x1="53.7" y1="369.3" x2="56.3" y2="369.3" stroke="#111" stroke-width="0.8"/>
<line x1="55.0" y1="368.0" x2="55.0" y2="370.6" stroke="#111" stroke-width="0.8"/>
<line x1="62.0" y1="369.3" x2="64.6" y2="369.3" stroke="#111" stroke-width="0.8"/>
<line x1="63.3" y1="368.0" x2="63.3" y2="370.6" stroke="#111" stroke-width="0.8"/>
<line x1="78.2" y1="369.3" x2="80.2" y2="369.3" stroke="#111" stroke-width="0.8"/>
<line x1="86.6" y1="369.3" x2="88.6" y2="369.3" stroke="#111" stroke-width="0.8"/>
<line x1="94.7" y1="369.3" x2="97.3" y2="369.3" stroke="#111" stroke-width="0.8"/>
<line x1="96" y1="368.0" x2="96" y2="370.6" stroke="#111" stroke-width="0.8"/>
<line x1="103.10000000000001" y1="369.3" x2="105.7" y2="369.3" stroke="#111" stroke-width="0.8"/>
<line x1="104.4" y1="368.0" x2="104.4" y2="370.6" stroke="#111" stroke-width="0.8"/>
<text x="139.6" y="197.4" font-size="12.2" text-anchor="start" font-weight="bold" fill="#111" style="stroke-width:0.45px">D</text>
<line x1="158.8" y1="203.5" x2="158.8" y2="339" stroke="#d2d2d2" stroke-width="0.9"/>
<line x1="158.8" y1="339" x2="232.8" y2="339" stroke="#d2d2d2" stroke-width="0.8"/>
<text x="156.2" y="341.8" font-size="5.6" text-anchor="end" font-weight="bold" fill="#111">0</text>
<text x="156.2" y="284.8" font-size="5.6" text-anchor="end" font-weight="bold" fill="#111">25</text>
<text x="156.2" y="228.3" font-size="5.6" text-anchor="end" font-weight="bold" fill="#111">50</text>
<text x="142.8" y="272.2" font-size="5.9" text-anchor="middle" font-weight="bold" fill="#111" transform="rotate(-90 142.8 272.2)">cells in G2/M (%)</text>
<line x1="171.39999999999998" y1="257.64" x2="171.39999999999998" y2="266.68" stroke="#666" stroke-width="0.8"/>
<line x1="169.89999999999998" y1="257.64" x2="172.89999999999998" y2="257.64" stroke="#666" stroke-width="0.8"/>
<rect x="165.6" y="266.7" width="11.6" height="72.3" fill="#000" stroke="none" stroke-width="1"/>
<line x1="196.05" y1="246.33999999999997" x2="196.05" y2="259.9" stroke="#666" stroke-width="0.8"/>
<line x1="194.55" y1="246.33999999999997" x2="197.55" y2="246.33999999999997" stroke="#666" stroke-width="0.8"/>
<rect x="190.3" y="259.9" width="11.5" height="79.1" fill="#000" stroke="none" stroke-width="1"/>
<line x1="221.8" y1="210.18000000000004" x2="221.8" y2="219.89800000000002" stroke="#666" stroke-width="0.8"/>
<line x1="220.3" y1="210.18000000000004" x2="223.3" y2="210.18000000000004" stroke="#666" stroke-width="0.8"/>
<rect x="216" y="219.9" width="11.6" height="119.1" fill="#000" stroke="none" stroke-width="1"/>
<text x="169.8" y="347.8" font-size="5.7" text-anchor="middle" font-weight="bold" fill="#111">parental</text>
<text x="196.4" y="347.8" font-size="5.7" text-anchor="middle" font-weight="bold" fill="#111">mock</text>
<text x="222.5" y="347.8" font-size="5.7" text-anchor="middle" font-weight="bold" fill="#111">shcyclinA</text>
<path d="M171,201.10000000000002 L171,198.3 L221.7,198.3 L221.7,201.10000000000002" fill="none" stroke="#555" stroke-width="0.7"/>
<text x="198" y="198.99" font-size="6.6" text-anchor="middle" font-weight="bold" fill="#000" style="stroke:#000;stroke-width:0.3px">*</text>
<path d="M196.6,208.4 L196.6,205.6 L221.7,205.6 L221.7,208.4" fill="none" stroke="#555" stroke-width="0.7"/>
<text x="209.7" y="206.59" font-size="6.6" text-anchor="middle" font-weight="bold" fill="#000" style="stroke:#000;stroke-width:0.3px">*</text>
<path d="M171,246.10000000000002 L171,243.3 L196.6,243.3 L196.6,246.10000000000002" fill="none" stroke="#555" stroke-width="0.7"/>
<text x="184" y="242" font-size="5.6" text-anchor="middle" font-weight="bold" fill="#111">NS</text>
<line x1="278.6" y1="203.5" x2="278.6" y2="339" stroke="#d2d2d2" stroke-width="0.9"/>
<line x1="278.6" y1="339" x2="352.6" y2="339" stroke="#d2d2d2" stroke-width="0.8"/>
<text x="275.8" y="341.8" font-size="5.6" text-anchor="end" font-weight="bold" fill="#111">0</text>
<text x="275.8" y="284.8" font-size="5.6" text-anchor="end" font-weight="bold" fill="#111">25</text>
<text x="275.8" y="228.3" font-size="5.6" text-anchor="end" font-weight="bold" fill="#111">50</text>
<text x="267.4" y="276.5" font-size="5.9" text-anchor="middle" font-weight="bold" fill="#111" transform="rotate(-90 267.4 276.5)">specific apoptosis (%)</text>
<line x1="291.5" y1="212.89200000000002" x2="291.5" y2="221.93200000000002" stroke="#666" stroke-width="0.8"/>
<line x1="290.0" y1="212.89200000000002" x2="293.0" y2="212.89200000000002" stroke="#666" stroke-width="0.8"/>
<rect x="285.8" y="221.9" width="11.4" height="117.1" fill="#000" stroke="none" stroke-width="1"/>
<line x1="316.15" y1="225.774" x2="316.15" y2="230.746" stroke="#666" stroke-width="0.8"/>
<line x1="314.65" y1="225.774" x2="317.65" y2="225.774" stroke="#666" stroke-width="0.8"/>
<rect x="310.5" y="230.7" width="11.3" height="108.3" fill="#000" stroke="none" stroke-width="1"/>
<line x1="341.3" y1="250.86" x2="341.3" y2="262.16" stroke="#666" stroke-width="0.8"/>
<line x1="339.8" y1="250.86" x2="342.8" y2="250.86" stroke="#666" stroke-width="0.8"/>
<rect x="335.6" y="262.2" width="11.4" height="76.8" fill="#000" stroke="none" stroke-width="1"/>
<text x="289.8" y="347.8" font-size="5.7" text-anchor="middle" font-weight="bold" fill="#111">parental</text>
<text x="316.2" y="347.8" font-size="5.7" text-anchor="middle" font-weight="bold" fill="#111">mock</text>
<text x="343" y="347.8" font-size="5.7" text-anchor="middle" font-weight="bold" fill="#111">shcyclinA</text>
<path d="M290,201.3 L290,198.5 L341.2,198.5 L341.2,201.3" fill="none" stroke="#555" stroke-width="0.7"/>
<text x="316" y="198.99" font-size="6.6" text-anchor="middle" font-weight="bold" fill="#000" style="stroke:#000;stroke-width:0.3px">*</text>
<path d="M316,208.4 L316,205.6 L341.2,205.6 L341.2,208.4" fill="none" stroke="#555" stroke-width="0.7"/>
<text x="329" y="206.59" font-size="6.6" text-anchor="middle" font-weight="bold" fill="#000" style="stroke:#000;stroke-width:0.3px">*</text>
<path d="M290,215.0 L290,212.2 L316,212.2 L316,215.0" fill="none" stroke="#555" stroke-width="0.7"/>
<text x="304" y="209.4" font-size="5.6" text-anchor="middle" font-weight="bold" fill="#111">NS</text>
<text x="236" y="356.3" font-size="5.7" text-anchor="middle" font-weight="bold" fill="#111">parental</text>
<text x="263" y="356.3" font-size="5.7" text-anchor="middle" font-weight="bold" fill="#111">mock</text>
<text x="288.8" y="356.3" font-size="5.7" text-anchor="middle" font-weight="bold" fill="#111">shcyclinA</text>
<text x="217" y="364" font-size="5.8" text-anchor="end" font-weight="bold" fill="#111">cyclinA</text>
<text x="217" y="370.2" font-size="5.8" text-anchor="end" font-weight="bold" fill="#111">GAPDH</text>
<rect x="224.6" y="359.5" width="76.2" height="5.0" fill="#dedede" stroke="#333" stroke-width="0.7"/>
<rect x="224.6" y="366.2" width="76.2" height="4.6" fill="#d0d0d0" stroke="#333" stroke-width="0.7"/>
<g filter="url(#b1)">
<path d="M227.5,362.8 C233,361.6 240,361.6 250,362.1" fill="none" stroke="#1a1a1a" stroke-width="2.3"/>
<path d="M254.5,362.6 C259,361.4 265,361.4 271,362.2" fill="none" stroke="#1a1a1a" stroke-width="2.4"/>
<path d="M277,362.6 L298,362.3" fill="none" stroke="#b5b5b5" stroke-width="1.2"/>
<path d="M227,368.7 C236,367.9 244,368.2 252,368.7 C258,367.9 268,368 274,368.7 C282,368.2 290,368.2 298.5,368.6" fill="none" stroke="#0a0a0a" stroke-width="2.6"/>
</g>
<text x="371.5" y="197.4" font-size="12.2" text-anchor="start" font-weight="bold" fill="#111" style="stroke-width:0.45px">E</text>
<polygon points="392.5,209.3 398.7,210.2 393.7,215.7 399.5,215.1 399.8,221.1 405.2,217.6 408.7,220.9 412.2,218.3 417.9,220.6 419.7,217.2 425.7,221.5 423.7,215.7 427.2,216.5 425.2,213.9 433.5,212.5 424.8,210.2 428.7,206.8 422.2,206.8 423.1,201.8 417.1,205.3 413.3,201.5 408.7,204.9 403.5,201.0 402.6,206.1 396.6,204.5 398.9,208.7" fill="#e0e0e0" stroke="#222" stroke-width="0.7" stroke-linejoin="miter"/>
<text x="411" y="214.4" font-size="6.0" text-anchor="middle" font-weight="bold" fill="#111">VCR</text>
<polygon points="477.2,206.7 483.4,207.6 478.4,213.1 484.2,212.5 484.5,218.5 489.9,215.0 493.4,218.3 496.9,215.7 502.6,218.0 504.4,214.6 510.4,218.9 508.4,213.1 511.9,213.9 509.9,211.3 518.2,209.9 509.5,207.6 513.4,204.2 506.9,204.2 507.8,199.2 501.8,202.7 498.0,198.9 493.4,202.3 488.2,198.4 487.3,203.5 481.3,201.9 483.6,206.1" fill="#e0e0e0" stroke="#222" stroke-width="0.7" stroke-linejoin="miter"/>
<text x="495.7" y="211.6" font-size="6.2" text-anchor="middle" font-weight="bold" fill="#111">doxo</text>
<line x1="483.2" y1="216.2" x2="479.5" y2="220.2" stroke="#111" stroke-width="1.6"/>
<polygon points="476.8,223.2 477.6,218.5 481.4,222.0" fill="#111"/>
<ellipse cx="472" cy="229" rx="8.0" ry="4.6" fill="#c2c2c2" stroke="#444" stroke-width="0.8"/>
<text x="472" y="231.1" font-size="6" text-anchor="middle" font-weight="bold" fill="#111">p53</text>
<line x1="466.2" y1="234.6" x2="463.5" y2="237.9" stroke="#111" stroke-width="1.7"/>
<polygon points="461.0,241.0 461.6,236.3 465.5,239.5" fill="#111"/>
<line x1="493.5" y1="228.8" x2="482.2" y2="228.8" stroke="#111" stroke-width="1.7"/>
<line x1="482.2" y1="225.1" x2="482.2" y2="232.5" stroke="#111" stroke-width="1.9"/>
<text x="495.2" y="230.9" font-size="5.85" text-anchor="start" font-weight="bold" fill="#111">shp53</text>
<line x1="434" y1="247" x2="416.6" y2="247" stroke="#111" stroke-width="1.8"/>
<line x1="416.6" y1="241.7" x2="416.6" y2="252.3" stroke="#111" stroke-width="2.0"/>
<ellipse cx="447.7" cy="246.9" rx="13.8" ry="5.8" fill="#adadad" stroke="#333" stroke-width="0.8"/>
<text x="447.7" y="249.0" font-size="5.6" text-anchor="middle" font-weight="bold" fill="#000">G2 arrest</text>
<line x1="480.3" y1="244.2" x2="470.6" y2="244.2" stroke="#111" stroke-width="1.8"/>
<polygon points="466.0,244.2 470.6,241.4 470.6,247.0" fill="#111"/>
<text x="482.5" y="245.8" font-size="5.85" text-anchor="start" font-weight="bold" fill="#111">shcyclinA</text>
<line x1="480.3" y1="251.2" x2="466.8" y2="251.2" stroke="#111" stroke-width="1.8"/>
<line x1="466.8" y1="247.6" x2="466.8" y2="254.8" stroke="#111" stroke-width="2.0"/>
<text x="482.5" y="253.9" font-size="5.85" text-anchor="start" font-weight="bold" fill="#111">KU55933</text>
<text x="482.5" y="259" font-size="5.85" text-anchor="start" font-weight="bold" fill="#111">caffeine</text>
<line x1="411.5" y1="221" x2="411.5" y2="254.0" stroke="#111" stroke-width="1.9"/>
<polygon points="411.5,258.4 408.7,254.0 414.3,254.0" fill="#111"/>
<circle cx="411.2" cy="261.9" r="3.2" fill="#747474" stroke="#222" stroke-width="0.7"/>
<text x="411.2" y="263.9" font-size="5.4" text-anchor="middle" font-weight="bold" fill="#000">P</text>
<circle cx="435" cy="261.9" r="3.2" fill="#747474" stroke="#222" stroke-width="0.7"/>
<text x="435" y="263.9" font-size="5.4" text-anchor="middle" font-weight="bold" fill="#000">P</text>
<ellipse cx="400" cy="270.8" rx="11.4" ry="7.8" fill="#d8d8d8" stroke="#555" stroke-width="0.8"/>
<text x="400" y="273" font-size="6" text-anchor="middle" font-weight="bold" fill="#111">Bcl-2</text>
<ellipse cx="424.3" cy="270.8" rx="11.6" ry="7.8" fill="#d8d8d8" stroke="#555" stroke-width="0.8"/>
<text x="424.3" y="273" font-size="6" text-anchor="middle" font-weight="bold" fill="#111">Bcl-xL</text>
<line x1="450.5" y1="269.5" x2="442.2" y2="269.5" stroke="#111" stroke-width="1.8"/>
<polygon points="437.6,269.5 442.2,266.7 442.2,272.3" fill="#111"/>
<text x="452.7" y="267.2" font-size="5.85" text-anchor="start" font-weight="bold" fill="#111">calphostin C</text>
<text x="452.7" y="272.6" font-size="5.85" text-anchor="start" font-weight="bold" fill="#111">okadaic acid</text>
<text x="452.7" y="277.8" font-size="5.85" text-anchor="start" font-weight="bold" fill="#111">DCPE</text>
<ellipse cx="411.4" cy="286" rx="13.4" ry="8.2" fill="#9c9c9c" stroke="#222" stroke-width="0.8"/>
<ellipse cx="411.4" cy="286" rx="11.2" ry="6.3" fill="#5c5c5c" stroke="#1a1a1a" stroke-width="0.6"/>
<g fill="#fff" stroke="none">
<rect x="401.59999999999997" y="281.6" width="5.0" height="8.6" rx="2.3"/>
<rect x="416.2" y="281.6" width="5.0" height="8.6" rx="2.3"/>
<rect x="407.5" y="280.4" width="3.2" height="3.6" rx="1"/>
<rect x="412.09999999999997" y="280.4" width="3.2" height="3.6" rx="1"/>
<rect x="407.5" y="287.4" width="3.2" height="3.8" rx="1"/>
<rect x="412.09999999999997" y="287.4" width="3.2" height="3.8" rx="1"/>
</g>
<rect x="404.2" y="284.6" width="2.0" height="4.2" fill="#555" stroke="none" stroke-width="0" rx="1"/>
<rect x="416.59999999999997" y="284.6" width="2.0" height="4.2" fill="#555" stroke="none" stroke-width="0" rx="1"/>
<line x1="411.3" y1="295.6" x2="411.3" y2="302.2" stroke="#111" stroke-width="1.8"/>
<polygon points="411.3,306.6 408.5,302.2 414.1,302.2" fill="#111"/>
<ellipse cx="411.2" cy="313.3" rx="14.3" ry="4.4" fill="#ececec" stroke="#222" stroke-width="0.8"/>
<text x="411.2" y="315.4" font-size="6" text-anchor="middle" font-weight="bold" fill="#111">cyt C</text>
<rect x="412.8" y="316.9" width="36.2" height="8.2" fill="#d6d6d6" stroke="#666" stroke-width="0.7"/>
<text x="430" y="323.2" font-size="5.8" text-anchor="middle" font-weight="bold" fill="#111">caspases</text>
<line x1="411.3" y1="326.2" x2="411.3" y2="331.2" stroke="#111" stroke-width="1.8"/>
<polygon points="411.3,335.6 408.5,331.2 414.1,331.2" fill="#111"/>
<circle cx="405.8" cy="342" r="1.26" fill="#666" stroke="#333" stroke-width="0.5"/>
<circle cx="408.8" cy="343.5" r="1.6800000000000002" fill="#bbb" stroke="#333" stroke-width="0.5"/>
<circle cx="412.3" cy="341.5" r="1.8900000000000001" fill="#999" stroke="#333" stroke-width="0.5"/>
<circle cx="415.3" cy="340.5" r="1.5750000000000002" fill="#444" stroke="#333" stroke-width="0.5"/>
<circle cx="410.8" cy="346" r="1.3650000000000002" fill="#aaa" stroke="#333" stroke-width="0.5"/>
<circle cx="414.3" cy="345.5" r="1.1550000000000002" fill="#777" stroke="#333" stroke-width="0.5"/>
<circle cx="407.3" cy="346.5" r="1.05" fill="#888" stroke="#333" stroke-width="0.5"/>
<circle cx="416.8" cy="344.5" r="0.9450000000000001" fill="#aaa" stroke="#333" stroke-width="0.5"/>
<circle cx="403.8" cy="341" r="0.8400000000000001" fill="#777" stroke="#333" stroke-width="0.5"/>
<circle cx="412.8" cy="348.5" r="1.05" fill="#888" stroke="#333" stroke-width="0.5"/>
<circle cx="416.3" cy="347.5" r="0.8400000000000001" fill="#999" stroke="#333" stroke-width="0.5"/>
<circle cx="409.3" cy="349" r="0.735" fill="#999" stroke="#333" stroke-width="0.5"/>
<circle cx="415.8" cy="342.5" r="1.26" fill="#555" stroke="#333" stroke-width="0.5"/>
<text x="411.9" y="357.8" font-size="5.7" text-anchor="middle" font-weight="bold" fill="#111">apoptosis</text>
</g>
</svg>
</body></html>
